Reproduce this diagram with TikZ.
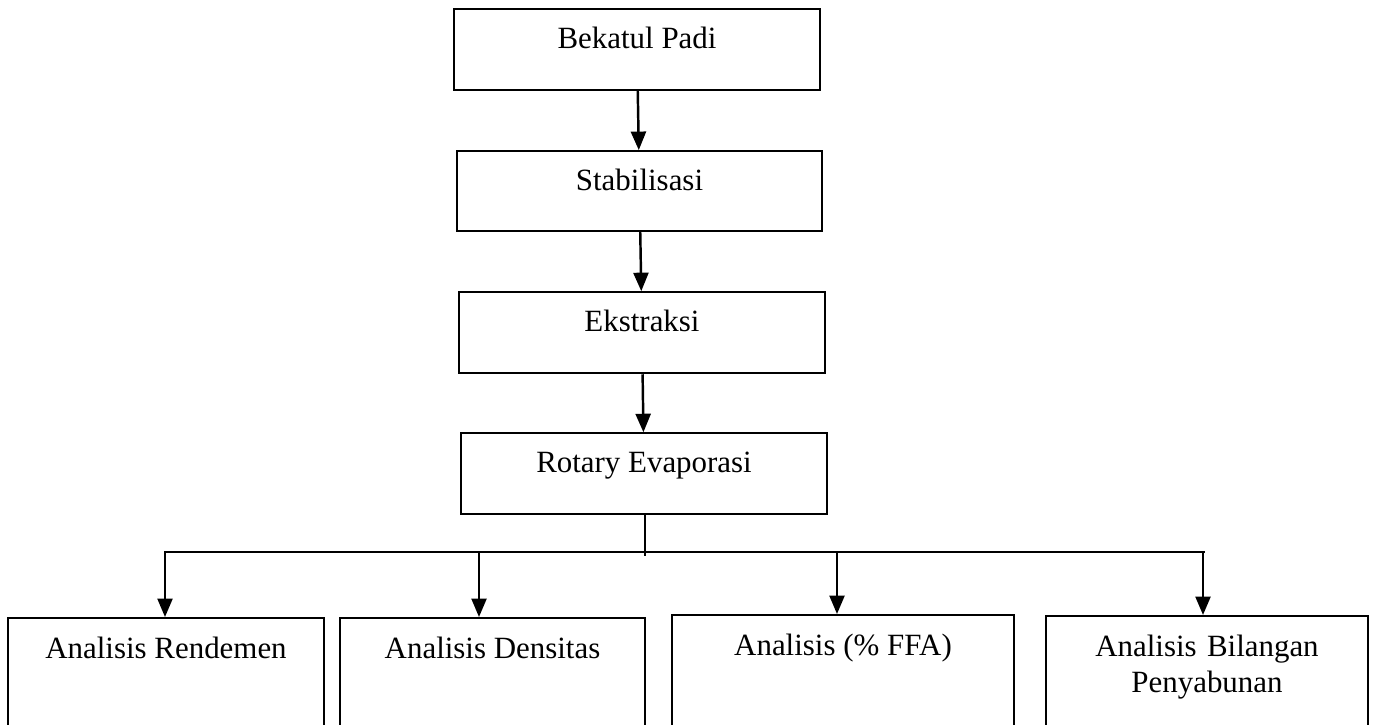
\documentclass[tikz,border=0pt]{standalone}
\usepackage{fontspec}
\setmainfont{Liberation Serif}
\usetikzlibrary{positioning,arrows.meta}
\begin{document}
\begin{tikzpicture}[x=0.02cm, y=-0.02cm, node distance={1.18cm},
    proc/.style = {draw, line width=1.2pt, inner sep=0pt, minimum width=7.32cm,
                   text height=0.78cm, text depth=0.84cm,
                   font=\fontsize{17.6pt}{21pt}\selectfont},
    ana/.style = {proc, anchor=north west, text height=0.8cm, text depth=3cm},
    arr/.style = {-{Triangle[length=0.37cm,width=0.3cm]}, line width=1.4pt}]
        \clip (0,0) rectangle (1373,724);

        % alur proses
        \node[proc, anchor=north west] (bp) at (453,8) {Bekatul Padi};
        \node[proc, minimum width=7.3cm, text depth=0.82cm] (st) [below=of bp, xshift=0.05cm] {Stabilisasi};
        \node[proc] (ek) [below=of st, xshift=0.05cm] {Ekstraksi};
        \node[proc] (re) [below=1.16cm of ek, xshift=0.04cm] {Rotary Evaporasi};

        % analisis
        \node[ana, minimum width=6.32cm] (a1) at (7,617) {Analisis Rendemen};
        \node[ana, minimum width=6.1cm] (a2) at (339,617) {Analisis Densitas};
        \node[ana, minimum width=6.84cm] (a3) at (671,614) {Analisis (\% FFA)};
        \node[ana, minimum width=6.44cm, text width=6.44cm, align=center] (a4) at (1045,615) {Analisis Bilangan\\Penyabunan};

        \draw[arr] (bp) -- (st);
        \draw[arr] (st) -- (ek);
        \draw[arr] (ek) -- (re);

        % percabangan
        \coordinate (j) at (645,556);
        \coordinate (hl) at (164,552);
        \coordinate (hr) at (1205,552);
        \draw[line width=1.2pt] (re.south -| j) -- (j);
        \draw[line width=1.2pt] (hl) -- (hr);
        \foreach \n/\x in {a1/165,a2/479,a3/837,a4/1203}{
            \coordinate (t\n) at (\x,552);
            \draw[arr] (t\n) -- (t\n |- \n.north);
        }
    \end{tikzpicture}
\end{document}
